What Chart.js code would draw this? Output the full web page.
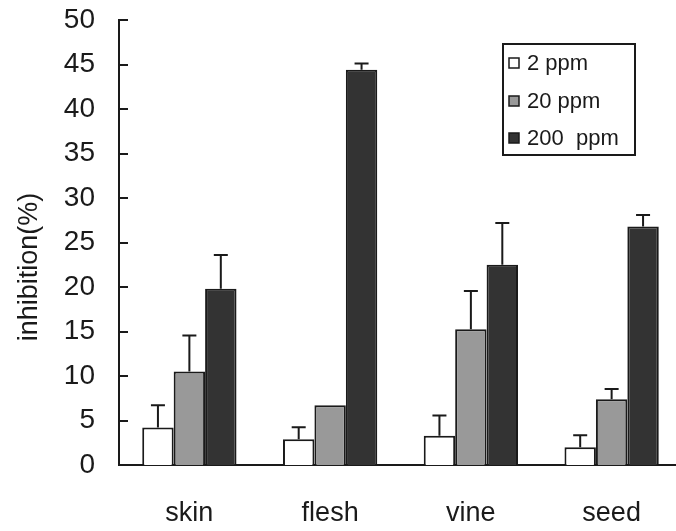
<!DOCTYPE html>
<html>
<head>
<meta charset="utf-8">
<script src="https://cdn.jsdelivr.net/npm/chart.js@4/dist/chart.umd.min.js"></script>
<style>
  html, body { margin: 0; padding: 0; background: #fff; overflow: hidden; }
  #wrap { width: 682px; height: 531px; }
</style>
</head>
<body>
<div id="wrap"><canvas id="inhibChart"></canvas></div>
<script>
const categories = ['skin', 'flesh', 'vine', 'seed'];
const seriesNames = ['2 ppm', '20 ppm', '200  ppm'];

const ppm2 = [4.2, 2.9, 3.3, 2.0];
const ppm2Err = [2.5, 1.35, 2.25, 1.35];
const ppm20 = [10.5, 6.7, 15.25, 7.4];
const ppm20Err = [4.05, 0, 4.3, 1.15];
const ppm200 = [19.8, 44.4, 22.5, 26.8];
const ppm200Err = [3.8, 0.7, 4.7, 1.3];

const yTicks = [0, 5, 10, 15, 20, 25, 30, 35, 40, 45, 50];

const fills = ['#ffffff', '#999999', '#333333'];
const FONT = '"Liberation Sans", Arial, sans-serif';

// upward-only error bars with a short cap
const errorBars = {
  id: 'errorBars',
  afterDatasetsDraw(chart) {
    const ctx = chart.ctx;
    const y = chart.scales.y;
    ctx.save();
    ctx.strokeStyle = '#1a1a1a';
    ctx.lineWidth = 2;
    chart.data.datasets.forEach((ds, i) => {
      const meta = chart.getDatasetMeta(i);
      meta.data.forEach((bar, j) => {
        const e = ds.errors[j];
        if (!e) return;
        const top = y.getPixelForValue(ds.data[j] + e);
        ctx.beginPath();
        ctx.moveTo(bar.x, bar.y);
        ctx.lineTo(bar.x, top);
        ctx.moveTo(bar.x - 7, top);
        ctx.lineTo(bar.x + 7, top);
        ctx.stroke();
      });
    });
    ctx.restore();
  }
};

// inward tick marks on the value axis, rotated axis title and boxed legend
const decorations = {
  id: 'decorations',
  afterDraw(chart) {
    const ctx = chart.ctx;
    const y = chart.scales.y;
    const left = chart.chartArea.left;
    ctx.save();
    ctx.strokeStyle = '#1a1a1a';
    ctx.lineWidth = 2;
    y.ticks.forEach(t => {
      const py = Math.round(y.getPixelForValue(t.value));
      ctx.beginPath();
      ctx.moveTo(left, py);
      ctx.lineTo(left + 9, py);
      ctx.stroke();
    });

    ctx.fillStyle = '#1a1a1a';
    ctx.font = '27px ' + FONT;
    ctx.textAlign = 'center';
    ctx.textBaseline = 'middle';
    ctx.translate(30, 267);
    ctx.rotate(-Math.PI / 2);
    ctx.fillText('inhibition(%)', 0, 0);
    ctx.restore();

    // legend
    ctx.save();
    ctx.strokeStyle = '#1a1a1a';
    ctx.lineWidth = 2;
    ctx.strokeRect(503, 44, 132, 111);
    ctx.font = '22px ' + FONT;
    ctx.textAlign = 'left';
    ctx.textBaseline = 'middle';
    const rows = [63, 101, 138];
    chart.data.datasets.forEach((ds, i) => {
      ctx.fillStyle = ds.backgroundColor;
      ctx.fillRect(509, rows[i] - 5, 10, 10);
      ctx.lineWidth = 1.5;
      ctx.strokeRect(509, rows[i] - 5, 10, 10);
      ctx.fillStyle = '#1a1a1a';
      ctx.fillText(ds.label, 527, rows[i] + 1);
    });
    ctx.restore();
  }
};

const errs = [ppm2Err, ppm20Err, ppm200Err];
const vals = [ppm2, ppm20, ppm200];

new Chart(document.getElementById('inhibChart'), {
  type: 'bar',
  data: {
    labels: categories,
    datasets: vals.map((v, i) => ({
      label: seriesNames[i],
      data: v,
      errors: errs[i],
      backgroundColor: fills[i],
      borderColor: '#1a1a1a',
      borderWidth: 2,
      categoryPercentage: 0.67,
      barPercentage: 1.0
    }))
  },
  options: {
    responsive: true,
    maintainAspectRatio: false,
    animation: false,
    layout: { padding: { top: 20, left: 0, right: 0, bottom: 0 } },
    plugins: {
      legend: { display: false },
      tooltip: { enabled: false }
    },
    scales: {
      x: {
        grid: { display: false, drawTicks: false },
        border: { display: true, color: '#1a1a1a', width: 2 },
        ticks: { color: '#1a1a1a', padding: 32, font: { family: FONT, size: 27 } },
        afterFit(scale) {
          scale.height = 66;
          scale.paddingLeft = 0;
          scale.paddingRight = 0;
        }
      },
      y: {
        min: 0,
        max: 50,
        afterBuildTicks(scale) { scale.ticks = yTicks.map(v => ({ value: v })); },
        grid: { display: false, drawTicks: false },
        border: { display: true, color: '#1a1a1a', width: 2 },
        ticks: { color: '#1a1a1a', padding: 24, font: { family: FONT, size: 28 } },
        afterFit(scale) {
          scale.width = 119;
          scale.paddingTop = 0;
          scale.paddingBottom = 0;
        }
      }
    }
  },
  plugins: [errorBars, decorations]
});
</script>
</body>
</html>
